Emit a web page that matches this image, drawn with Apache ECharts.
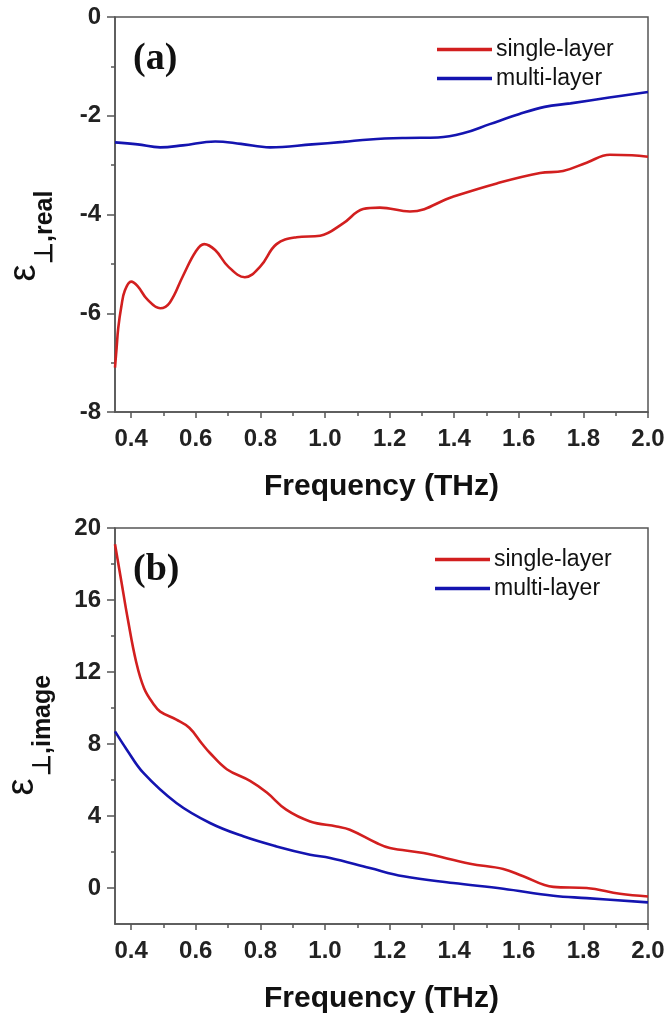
<!DOCTYPE html>
<html>
<head>
<meta charset="utf-8">
<script src="https://cdn.jsdelivr.net/npm/echarts@6/dist/echarts.min.js"></script>
<style>
html,body{margin:0;padding:0;background:#fff;}
#chart{width:668px;height:1014px;}
</style>
</head>
<body>
<div id="chart"></div>
<script>
// ---- Data ----
const seriesNames = ['single-layer', 'multi-layer'];
const xTicks = [0.4, 0.6, 0.8, 1.0, 1.2, 1.4, 1.6, 1.8, 2.0];
const xMinorTicks = [0.5, 0.7, 0.9, 1.1, 1.3, 1.5, 1.7, 1.9];
const yTicksB = [0, 4, 8, 12, 16, 20];
const yMinorTicksB = [2, 6, 10, 14, 18];

// Panel (a): real part
const freqRealSingle = [0.35, 0.355, 0.36, 0.37, 0.38, 0.40, 0.42, 0.45, 0.49, 0.52, 0.56, 0.60, 0.626, 0.66, 0.70, 0.752, 0.80, 0.85, 0.912, 0.985, 1.056, 1.118, 1.17, 1.263, 1.396, 1.532, 1.666, 1.737, 1.81, 1.882, 1.95, 2.0];
const realSingle     = [-7.10, -6.70, -6.30, -5.85, -5.55, -5.36, -5.45, -5.72, -5.90, -5.78, -5.25, -4.75, -4.60, -4.72, -5.05, -5.27, -5.05, -4.60, -4.46, -4.43, -4.18, -3.89, -3.86, -3.94, -3.64, -3.37, -3.16, -3.12, -2.95, -2.79, -2.80, -2.83];
const freqRealMulti  = [0.35, 0.42, 0.49, 0.56, 0.66, 0.74, 0.83, 0.96, 1.056, 1.139, 1.25, 1.35, 1.43, 1.51, 1.60, 1.68, 1.76, 1.88, 2.0];
const realMulti      = [-2.54, -2.58, -2.64, -2.60, -2.52, -2.57, -2.64, -2.58, -2.53, -2.48, -2.45, -2.44, -2.35, -2.17, -1.97, -1.82, -1.75, -1.63, -1.52];

// Panel (b): imaginary part
const freqImagSingle = [0.35, 0.37, 0.39, 0.415, 0.44, 0.47, 0.49, 0.54, 0.58, 0.62, 0.644, 0.696, 0.768, 0.82, 0.88, 0.954, 1.036, 1.077, 1.16, 1.201, 1.305, 1.449, 1.552, 1.614, 1.707, 1.81, 1.913, 2.0];
const imagSingle     = [19.1, 17.0, 14.9, 12.6, 11.1, 10.2, 9.8, 9.35, 8.9, 8.0, 7.5, 6.6, 5.95, 5.3, 4.35, 3.7, 3.42, 3.24, 2.5, 2.22, 1.94, 1.35, 1.06, 0.65, 0.06, 0.0, -0.32, -0.47];
const freqImagMulti  = [0.35, 0.386, 0.438, 0.54, 0.644, 0.747, 0.85, 0.954, 1.016, 1.139, 1.243, 1.397, 1.552, 1.707, 1.81, 2.0];
const imagMulti      = [8.7, 7.7, 6.39, 4.72, 3.61, 2.87, 2.31, 1.85, 1.67, 1.11, 0.65, 0.28, -0.04, -0.43, -0.56, -0.8];

const zip = (xs, ys) => xs.map((x, i) => [x, ys[i]]);

const RED = '#d21f1f';
const BLUE = '#1414b0';
const AXIS = '#555555';
const LABEL_FONT = { fontFamily: 'Liberation Sans, Arial, sans-serif', fontWeight: 'bold', fontSize: 24, color: '#222' };

const chart = echarts.init(document.getElementById('chart'), null, { renderer: 'canvas' });

const grids = [
  { left: 115, right: 20, top: 17, height: 395 },
  { left: 115, right: 20, top: 528, height: 396 }
];

function mainX(gi) {
  return {
    type: 'value', gridIndex: gi, min: 0.35, max: 2.0, position: 'bottom',
    axisLine: { show: true, onZero: false, lineStyle: { color: AXIS, width: 1.5 } },
    axisTick: { show: true, customValues: xTicks, length: 6, lineStyle: { color: AXIS, width: 1.5 } },
    axisLabel: Object.assign({ customValues: xTicks, margin: 15, formatter: v => v.toFixed(1) }, LABEL_FONT),
    splitLine: { show: false },
    name: 'Frequency (THz)', nameLocation: 'middle', nameGap: 60,
    nameTextStyle: { fontFamily: 'Liberation Sans, Arial, sans-serif', fontWeight: 'bold', fontSize: 30, color: '#111' }
  };
}
function minorX(gi, h) {
  return {
    type: 'value', gridIndex: gi, min: 0.35, max: 2.0, position: 'top', offset: -h,
    axisLine: { show: false },
    axisTick: { show: true, inside: true, customValues: xMinorTicks, length: 4, lineStyle: { color: AXIS, width: 1.5 } },
    axisLabel: { show: false }, splitLine: { show: false }
  };
}

const lineSeries = (name, xi, yi, xs, ys, color) => ({
  name, type: 'line', xAxisIndex: xi, yAxisIndex: yi, data: zip(xs, ys),
  showSymbol: false, smooth: 0.4, lineStyle: { color, width: 2.6 }, itemStyle: { color }
});

const legendText = { fontFamily: 'Liberation Sans, Arial, sans-serif', fontSize: 23, color: '#111', padding: [0, 0, 0, -1] };

const option = {
  backgroundColor: '#ffffff',
  animation: false,
  grid: grids.map(g => Object.assign({ show: true, borderColor: AXIS, borderWidth: 1.5, backgroundColor: 'transparent', outerBoundsMode: 'none', containLabel: false }, g)),
  xAxis: [mainX(0), minorX(0, 395), mainX(1), minorX(1, 396)],
  yAxis: [
    {
      type: 'value', gridIndex: 0, min: -8, max: 0, interval: 2, position: 'left',
      axisLine: { show: true, onZero: false, lineStyle: { color: AXIS, width: 1.5 } },
      axisTick: { show: true, length: 8, lineStyle: { color: AXIS, width: 1.5 } },
      minorTick: { show: true, splitNumber: 2, length: 4, lineStyle: { color: AXIS, width: 1.5 } },
      axisLabel: Object.assign({ margin: 14 }, LABEL_FONT),
      splitLine: { show: false }, minorSplitLine: { show: false }
    },
    {
      type: 'value', gridIndex: 1, min: -2, max: 20, position: 'left',
      axisLine: { show: true, onZero: false, lineStyle: { color: AXIS, width: 1.5 } },
      axisTick: { show: true, customValues: yTicksB, length: 8, lineStyle: { color: AXIS, width: 1.5 } },
      axisLabel: Object.assign({ customValues: yTicksB, margin: 14 }, LABEL_FONT),
      splitLine: { show: false }
    },
    {
      type: 'value', gridIndex: 1, min: -2, max: 20, position: 'right', offset: -533,
      axisLine: { show: false },
      axisTick: { show: true, inside: true, customValues: yMinorTicksB, length: 4, lineStyle: { color: AXIS, width: 1.5 } },
      axisLabel: { show: false }, splitLine: { show: false }
    }
  ],
  legend: [
    { left: 432, top: 33, orient: 'vertical', itemGap: 6, itemWidth: 55, itemHeight: 3.5, icon: 'rect',
      data: seriesNames, selectedMode: false, textStyle: legendText },
    { left: 430, top: 543, orient: 'vertical', itemGap: 6, itemWidth: 55, itemHeight: 3.5, icon: 'rect',
      data: seriesNames, selectedMode: false, textStyle: legendText }
  ],
  series: [
    lineSeries('single-layer', 0, 0, freqRealSingle, realSingle, RED),
    lineSeries('multi-layer', 0, 0, freqRealMulti, realMulti, BLUE),
    lineSeries('single-layer', 2, 1, freqImagSingle, imagSingle, RED),
    lineSeries('multi-layer', 2, 1, freqImagMulti, imagMulti, BLUE)
  ],
  graphic: [
    { type: 'text', left: 133, top: 40, style: { text: '(a)', fontFamily: 'Liberation Serif, Times New Roman, serif', fontWeight: 'bold', fontSize: 38, fill: '#111' } },
    { type: 'text', left: 133, top: 551, style: { text: '(b)', fontFamily: 'Liberation Serif, Times New Roman, serif', fontWeight: 'bold', fontSize: 38, fill: '#111' } },
    // y-axis titles (rotated)
    { type: 'text', x: 25, y: 273, rotation: Math.PI / 2, style: { text: 'ε', fontFamily: 'Liberation Sans, Arial, sans-serif', fontSize: 38, fill: '#111', align: 'center', verticalAlign: 'middle' } },
    { type: 'text', x: 45, y: 264, rotation: Math.PI / 2, style: { text: '⊥,real', fontFamily: 'Liberation Sans, Arial, sans-serif', fontWeight: 'bold', fontSize: 25, fill: '#111', align: 'left', verticalAlign: 'middle' } },
    { type: 'text', x: 23, y: 787, rotation: Math.PI / 2, style: { text: 'ε', fontFamily: 'Liberation Sans, Arial, sans-serif', fontSize: 38, fill: '#111', align: 'center', verticalAlign: 'middle' } },
    { type: 'text', x: 43, y: 776, rotation: Math.PI / 2, style: { text: '⊥,image', fontFamily: 'Liberation Sans, Arial, sans-serif', fontWeight: 'bold', fontSize: 25, fill: '#111', align: 'left', verticalAlign: 'middle' } }
  ]
};
chart.setOption(option);
</script>
</body>
</html>
